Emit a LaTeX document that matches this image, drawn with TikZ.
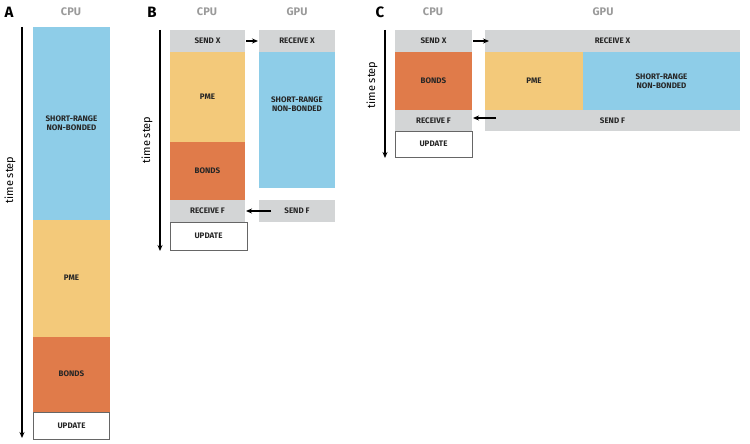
\documentclass[tikz,border=0pt]{standalone}
\usepackage{fontspec}
\setmainfont{Fira Sans}
\usetikzlibrary{arrows.meta}
\definecolor{sr}{HTML}{8ECDE8}
\definecolor{pme}{HTML}{F3C97A}
\definecolor{bnd}{HTML}{E07B4A}
\definecolor{gr}{HTML}{D3D5D6}
\definecolor{hd}{HTML}{9A9A9A}
\begin{document}
\begin{tikzpicture}[x=1pt,y=-1pt,
 blk/.style={inner sep=0pt,font=\fontsize{8}{9}\selectfont\bfseries,align=center,text=black!85},
 hdr/.style={font=\fontsize{11}{12}\selectfont\bfseries,text=hd},
 pan/.style={font=\fontsize{15}{16}\selectfont\bfseries},
 ts/.style={font=\fontsize{11}{12}\selectfont,rotate=90},
 arr/.style={-{Stealth[length=6pt,width=5pt]},line width=1.2pt}]
\useasboundingbox (0,0) rectangle (750,444);
% Panel A
\node[pan] (la) at (9,12) {A};
\node[hdr] (ca) at (71,12) {CPU};
\fill[sr] (33,27) rectangle (110,220); \node[blk] (a1) at (71.5,123) {SHORT-RANGE\\NON-BONDED};
\fill[pme] (33,220) rectangle (110,337); \node[blk] (a2) at (71.5,278) {PME};
\fill[bnd] (33,337) rectangle (110,412); \node[blk] (a3) at (71.5,374) {BONDS};
\draw[black!60,line width=.6pt] (33.3,412) rectangle (109.7,439.5); \node[blk] (a4) at (71.5,426) {UPDATE};
\coordinate (at0) at (22,27); \coordinate (at1) at (22,438);
\draw[arr] (at0) -- (at1);
\node[ts] (tsa) at (10,180) {time step};
% Panel B
\node[pan] (lb) at (152,12) {B};
\node[hdr] (cb) at (207,12) {CPU};
\node[hdr] (gb) at (297,12) {GPU};
\fill[gr] (170,30) rectangle (245,52); \node[blk] (b1) at (207.5,41) {SEND X};
\fill[pme] (170,52) rectangle (245,142); \node[blk] (b2) at (207.5,97) {PME};
\fill[bnd] (170,142) rectangle (245,200); \node[blk] (b3) at (207.5,171) {BONDS};
\fill[gr] (170,200) rectangle (245,222); \node[blk] (b4) at (207.5,211) {RECEIVE F};
\draw[black!60,line width=.6pt] (170.3,222) rectangle (247,250); \node[blk] (b5) at (208.5,236) {UPDATE};
\fill[gr] (259,30) rectangle (335,52); \node[blk] (g1) at (297,41) {RECEIVE X};
\fill[sr] (259,52) rectangle (335,188); \node[blk] (g2) at (297,104) {SHORT-RANGE\\NON-BONDED};
\fill[gr] (259,200) rectangle (335,222); \node[blk] (g3) at (297,211) {SEND F};
\coordinate (bx0) at (246,41); \coordinate (bx1) at (258,41);
\draw[arr] (bx0) -- (bx1);
\coordinate (bf0) at (271,211); \coordinate (bf1) at (246,211);
\draw[arr] (bf0) -- (bf1);
\coordinate (bt0) at (160,30); \coordinate (bt1) at (160,251);
\draw[arr] (bt0) -- (bt1);
\node[ts] (tsb) at (147,140) {time step};
% Panel C
\node[pan] (lc) at (380,12) {C};
\node[hdr] (cc) at (433,12) {CPU};
\node[hdr] (gc) at (603,12) {GPU};
\fill[gr] (395,30) rectangle (472,52); \node[blk] (c1) at (433.5,41) {SEND X};
\fill[bnd] (395,52) rectangle (472,110); \node[blk] (c2) at (433.5,81) {BONDS};
\fill[gr] (395,110) rectangle (472,131); \node[blk] (c3) at (433.5,120.5) {RECEIVE F};
\draw[black!60,line width=.6pt] (395.3,131) rectangle (472,157); \node[blk] (c4) at (433.5,144) {UPDATE};
\fill[gr] (485,30) rectangle (740,52); \node[blk] (h1) at (612.5,41) {RECEIVE X};
\fill[pme] (485,52) rectangle (583,110); \node[blk] (h2) at (534,81) {PME};
\fill[sr] (583,52) rectangle (740,110); \node[blk] (h3) at (661.5,81) {SHORT-RANGE\\NON-BONDED};
\fill[gr] (485,110) rectangle (740,131); \node[blk] (h4) at (612.5,120.5) {SEND F};
\coordinate (cx0) at (473,41); \coordinate (cx1) at (489,41);
\draw[arr] (cx0) -- (cx1);
\coordinate (cf0) at (496,118); \coordinate (cf1) at (473,118);
\draw[arr] (cf0) -- (cf1);
\coordinate (ct0) at (385,30); \coordinate (ct1) at (385,158);
\draw[arr] (ct0) -- (ct1);
\node[ts] (tsc) at (372,85) {time step};
\end{tikzpicture}
\end{document}
